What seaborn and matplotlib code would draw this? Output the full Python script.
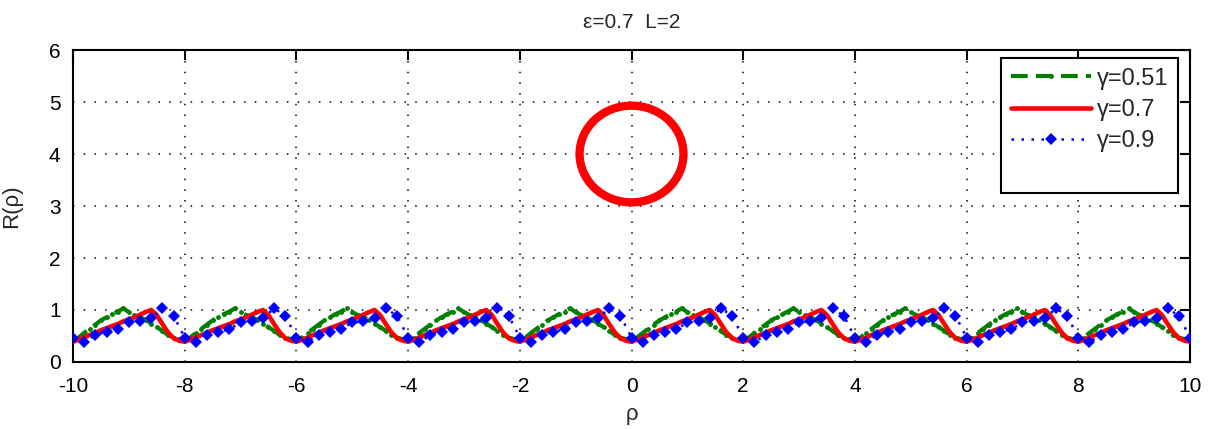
import numpy as np
import matplotlib
matplotlib.use("Agg")
import matplotlib.pyplot as plt
from matplotlib.patches import Ellipse
from matplotlib.lines import Line2D
import seaborn as sns

# ---------------- data ----------------
x_min, x_max = -10, 10
x_ticks = [-10, -8, -6, -4, -2, 0, 2, 4, 6, 8, 10]
y_ticks = [0, 1, 2, 3, 4, 5, 6]

# gamma = 0.7 (red), sampled every 0.1
red_vals = [
    0.39, 0.43, 0.47, 0.52, 0.56, 0.61, 0.65, 0.69, 0.73, 0.78, 0.82, 0.86, 0.91, 0.96, 1.00, 0.90, 0.73, 0.57, 0.46, 0.41,
    0.39, 0.43, 0.47, 0.52, 0.56, 0.61, 0.65, 0.69, 0.73, 0.78, 0.82, 0.86, 0.91, 0.96, 1.00, 0.90, 0.73, 0.57, 0.46, 0.41,
    0.39, 0.43, 0.47, 0.52, 0.56, 0.61, 0.65, 0.69, 0.73, 0.78, 0.82, 0.86, 0.91, 0.96, 1.00, 0.90, 0.73, 0.57, 0.46, 0.41,
    0.39, 0.43, 0.47, 0.52, 0.56, 0.61, 0.65, 0.69, 0.73, 0.78, 0.82, 0.86, 0.91, 0.96, 1.00, 0.90, 0.73, 0.57, 0.46, 0.41,
    0.39, 0.43, 0.47, 0.52, 0.56, 0.61, 0.65, 0.69, 0.73, 0.78, 0.82, 0.86, 0.91, 0.96, 1.00, 0.90, 0.73, 0.57, 0.46, 0.41,
    0.39, 0.43, 0.47, 0.52, 0.56, 0.61, 0.65, 0.69, 0.73, 0.78, 0.82, 0.86, 0.91, 0.96, 1.00, 0.90, 0.73, 0.57, 0.46, 0.41,
    0.39, 0.43, 0.47, 0.52, 0.56, 0.61, 0.65, 0.69, 0.73, 0.78, 0.82, 0.86, 0.91, 0.96, 1.00, 0.90, 0.73, 0.57, 0.46, 0.41,
    0.39, 0.43, 0.47, 0.52, 0.56, 0.61, 0.65, 0.69, 0.73, 0.78, 0.82, 0.86, 0.91, 0.96, 1.00, 0.90, 0.73, 0.57, 0.46, 0.41,
    0.39, 0.43, 0.47, 0.52, 0.56, 0.61, 0.65, 0.69, 0.73, 0.78, 0.82, 0.86, 0.91, 0.96, 1.00, 0.90, 0.73, 0.57, 0.46, 0.41,
    0.39, 0.43, 0.47, 0.52, 0.56, 0.61, 0.65, 0.69, 0.73, 0.78, 0.82, 0.86, 0.91, 0.96, 1.00, 0.90, 0.73, 0.57, 0.46, 0.41,
    0.39,
]

# gamma = 0.51 (green), sampled every 0.1
green_vals = [
    0.42, 0.47, 0.56, 0.64, 0.72, 0.80, 0.86, 0.92, 0.97, 1.03, 0.96, 0.90, 0.86, 0.81, 0.74, 0.67, 0.60, 0.52, 0.47, 0.44,
    0.42, 0.47, 0.56, 0.64, 0.72, 0.80, 0.86, 0.92, 0.97, 1.03, 0.96, 0.90, 0.86, 0.81, 0.74, 0.67, 0.60, 0.52, 0.47, 0.44,
    0.42, 0.47, 0.56, 0.64, 0.72, 0.80, 0.86, 0.92, 0.97, 1.03, 0.96, 0.90, 0.86, 0.81, 0.74, 0.67, 0.60, 0.52, 0.47, 0.44,
    0.42, 0.47, 0.56, 0.64, 0.72, 0.80, 0.86, 0.92, 0.97, 1.03, 0.96, 0.90, 0.86, 0.81, 0.74, 0.67, 0.60, 0.52, 0.47, 0.44,
    0.42, 0.47, 0.56, 0.64, 0.72, 0.80, 0.86, 0.92, 0.97, 1.03, 0.96, 0.90, 0.86, 0.81, 0.74, 0.67, 0.60, 0.52, 0.47, 0.44,
    0.42, 0.47, 0.56, 0.64, 0.72, 0.80, 0.86, 0.92, 0.97, 1.03, 0.96, 0.90, 0.86, 0.81, 0.74, 0.67, 0.60, 0.52, 0.47, 0.44,
    0.42, 0.47, 0.56, 0.64, 0.72, 0.80, 0.86, 0.92, 0.97, 1.03, 0.96, 0.90, 0.86, 0.81, 0.74, 0.67, 0.60, 0.52, 0.47, 0.44,
    0.42, 0.47, 0.56, 0.64, 0.72, 0.80, 0.86, 0.92, 0.97, 1.03, 0.96, 0.90, 0.86, 0.81, 0.74, 0.67, 0.60, 0.52, 0.47, 0.44,
    0.42, 0.47, 0.56, 0.64, 0.72, 0.80, 0.86, 0.92, 0.97, 1.03, 0.96, 0.90, 0.86, 0.81, 0.74, 0.67, 0.60, 0.52, 0.47, 0.44,
    0.42, 0.47, 0.56, 0.64, 0.72, 0.80, 0.86, 0.92, 0.97, 1.03, 0.96, 0.90, 0.86, 0.81, 0.74, 0.67, 0.60, 0.52, 0.47, 0.44,
    0.42,
]

# gamma = 0.9 (blue), sampled every 0.2
blue_vals = [
    0.47, 0.38, 0.52, 0.58, 0.63, 0.76, 0.78, 0.84, 1.03, 0.89,
    0.47, 0.38, 0.52, 0.58, 0.63, 0.76, 0.78, 0.84, 1.03, 0.89,
    0.47, 0.38, 0.52, 0.58, 0.63, 0.76, 0.78, 0.84, 1.03, 0.89,
    0.47, 0.38, 0.52, 0.58, 0.63, 0.76, 0.78, 0.84, 1.03, 0.89,
    0.47, 0.38, 0.52, 0.58, 0.63, 0.76, 0.78, 0.84, 1.03, 0.89,
    0.47, 0.38, 0.52, 0.58, 0.63, 0.76, 0.78, 0.84, 1.03, 0.89,
    0.47, 0.38, 0.52, 0.58, 0.63, 0.76, 0.78, 0.84, 1.03, 0.89,
    0.47, 0.38, 0.52, 0.58, 0.63, 0.76, 0.78, 0.84, 1.03, 0.89,
    0.47, 0.38, 0.52, 0.58, 0.63, 0.76, 0.78, 0.84, 1.03, 0.89,
    0.47, 0.38, 0.52, 0.58, 0.63, 0.76, 0.78, 0.84, 1.03, 0.89,
    0.47,
]

labels = ["γ=0.51", "γ=0.7", "γ=0.9"]

circle_center_x = 0.0
circle_center_y = 4.0
circle_radius = 0.93

x_fine = np.linspace(x_min, x_max, len(red_vals))
x_blue = np.linspace(x_min, x_max, len(blue_vals))

# ---------------- style ----------------
sns.set_style("white")
plt.rcParams["font.family"] = ["Liberation Sans", "DejaVu Sans"]

fig = plt.figure(figsize=(12.09, 4.29), dpi=100)
ax = fig.add_axes([0.0604, 0.1562, 0.9239, 0.7272])

GREEN = "#008000"
RED = "#ff0000"
BLUE = "#0000ff"

green_kw = dict(color=GREEN, linestyle=(0, (4, 2)), linewidth=3.0, marker=".", markersize=7, markeredgewidth=0)
red_kw = dict(color=RED, linestyle="-", linewidth=3.3)
blue_kw = dict(color=BLUE, linestyle=(0, (1, 3)), linewidth=1.8, marker="D", markersize=6.5, markeredgewidth=0)

sns.lineplot(x=x_fine, y=green_vals, ax=ax, zorder=3, **green_kw)
sns.lineplot(x=x_fine, y=red_vals, ax=ax, zorder=4, **red_kw)
sns.lineplot(x=x_blue, y=blue_vals, ax=ax, zorder=5, **blue_kw)

ax.add_patch(Ellipse((circle_center_x, circle_center_y), 2 * circle_radius, 2 * circle_radius,
                     fill=False, edgecolor=RED, linewidth=6, zorder=6))

ax.set_xlim(x_min, x_max)
ax.set_ylim(0, 6)
ax.set_xticks(x_ticks)
ax.set_yticks(y_ticks)
ax.set_xticklabels([str(t) for t in x_ticks])
ax.set_yticklabels([str(t) for t in y_ticks])

ax.grid(True, color="black", linestyle=(0, (1, 6)), linewidth=1.1)
for s in ax.spines.values():
    s.set_visible(True)
    s.set_color("black")
    s.set_linewidth(1.5)
ax.tick_params(direction="in", length=7, width=1.5, top=True, right=True,
               labelsize=15, colors="black")
ax.tick_params(axis="x", pad=11)
ax.tick_params(axis="y", pad=9)

ax.set_title("ε=0.7  L=2", fontsize=15, pad=16)
ax.set_xlabel("ρ", fontsize=16)
ax.set_ylabel("R(ρ)", fontsize=16)
ax.xaxis.set_label_coords(0.5, -0.135)
ax.yaxis.set_label_coords(-0.046, 0.5)

handles = [
    Line2D([], [], **green_kw),
    Line2D([], [], **red_kw),
    Line2D([], [], **blue_kw),
    Line2D([], [], color="none"),
]
leg = ax.legend(handles, labels + [" "], loc="upper right", bbox_to_anchor=(0.989, 0.974),
                borderaxespad=0, fontsize=17, handlelength=3.4, handletextpad=0.25,
                labelspacing=0.4, borderpad=0.4, fancybox=False, framealpha=1,
                edgecolor="black")
leg.get_frame().set_linewidth(1.5)
leg.set_zorder(10)

fig.savefig("out.png", dpi=100)
